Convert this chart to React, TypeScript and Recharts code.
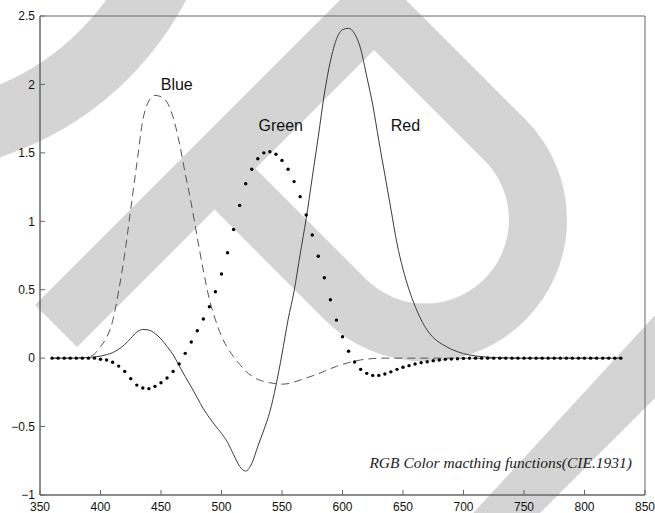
import React from 'react';
import { LineChart, Line, XAxis, YAxis, ReferenceDot, ReferenceArea } from 'recharts';

// wavelengths 360..830 nm every 5 nm
const wavelengths: number[] = Array.from({ length: 95 }, (_, i) => 360 + 5 * i);

// red (solid)
const redValues = [
  0, 0, 0, 0, 0.001, 0.002, 0.005, 0.009, // 360-395
  0.015, 0.025, 0.04, 0.065, 0.1, 0.145, 0.19, 0.21, 0.205, 0.18, // 400-445
  0.14, 0.085, 0.025, -0.055, -0.135, -0.21, -0.29, -0.37, -0.435, -0.495, // 450-495
  -0.55, -0.615, -0.705, -0.79, -0.825, -0.77, -0.645, -0.525, -0.39, -0.2, // 500-545
  0.03, 0.28, 0.49, 0.76, 1.02, 1.32, 1.62, 1.93, 2.17, 2.33, // 550-595
  2.4, 2.41, 2.37, 2.26, 2.06, 1.85, 1.59, 1.34, 1.09, 0.84, // 600-645
  0.65, 0.5, 0.38, 0.28, 0.205, 0.15, 0.115, 0.088, 0.065, 0.047, // 650-695
  0.033, 0.023, 0.016, 0.011, 0.007, 0.005, 0.003, 0.002, 0.001, 0, // 700-745
  0, 0, 0, 0, 0, 0, 0, 0, 0, 0, // 750-795
  0, 0, 0, 0, 0, 0, 0, // 800-830
];

// green (dotted)
const greenValues = [
  0, 0, 0, 0, 0, 0, 0, 0, // 360-395
  -0.008, -0.014, -0.03, -0.058, -0.097, -0.15, -0.197, -0.218, -0.223, -0.206, // 400-445
  -0.18, -0.145, -0.097, -0.042, 0.035, 0.118, 0.2, 0.286, 0.376, 0.485, // 450-495
  0.615, 0.77, 0.94, 1.116, 1.274, 1.38, 1.457, 1.5, 1.508, 1.49, // 500-545
  1.445, 1.38, 1.29, 1.18, 1.046, 0.9, 0.744, 0.587, 0.427, 0.278, // 550-595
  0.156, 0.05, -0.028, -0.082, -0.111, -0.126, -0.126, -0.116, -0.1, -0.082, // 600-645
  -0.067, -0.055, -0.043, -0.033, -0.026, -0.019, -0.014, -0.009, -0.007, -0.004, // 650-695
  -0.002, 0, 0, 0, 0, 0, 0, 0, 0, 0, // 700-745
  0, 0, 0, 0, 0, 0, 0, 0, 0, 0, // 750-795
  0, 0, 0, 0, 0, 0, 0, // 800-830
];

// blue (dashed)
const blueValues = [
  0, 0, 0, 0, 0.001, 0.003, 0.008, 0.03, // 360-395
  0.085, 0.15, 0.27, 0.49, 0.76, 1.09, 1.42, 1.74, 1.88, 1.92, // 400-445
  1.91, 1.87, 1.76, 1.58, 1.35, 1.13, 0.88, 0.64, 0.43, 0.28, // 450-495
  0.16, 0.075, 0.01, -0.045, -0.095, -0.13, -0.155, -0.17, -0.18, -0.187, // 500-545
  -0.19, -0.186, -0.175, -0.16, -0.145, -0.13, -0.115, -0.095, -0.077, -0.06, // 550-595
  -0.046, -0.033, -0.022, -0.013, -0.007, -0.003, -0.001, 0, 0, 0, // 600-645
  0, 0, 0, 0, 0, 0, 0, 0, 0, 0, // 650-695
  0, 0, 0, 0, 0, 0, 0, 0, 0, 0, // 700-745
  0, 0, 0, 0, 0, 0, 0, 0, 0, 0, // 750-795
  0, 0, 0, 0, 0, 0, 0, // 800-830
];

const xTicks = [350, 400, 450, 500, 550, 600, 650, 700, 750, 800, 850];
const yTicks = [-1, -0.5, 0, 0.5, 1, 1.5, 2, 2.5];

const curveLabels = [
  { name: 'Blue', x: 463, y: 2.0 },
  { name: 'Green', x: 549, y: 1.7 },
  { name: 'Red', x: 652, y: 1.7 },
];

const title = 'RGB Color macthing functions(CIE.1931)';

const data = wavelengths.map((w, i) => ({
  nm: w,
  red: redValues[i],
  green: greenValues[i],
  blue: blueValues[i],
}));

const fmt = (v: number) => (v < 0 ? '\u2212' + Math.abs(v) : String(v));

const GreenDot = (props: any) => {
  const { cx, cy, index } = props;
  if (cx == null || cy == null) return <g key={index} />;
  return <circle key={index} cx={cx} cy={cy} r={1.7} fill="#000" />;
};

// grey watermark in the background of the scan
const Watermark = () => (
  <svg width={655} height={513} style={{ position: 'absolute', left: 0, top: 0 }}>
    <g fill="none" stroke="#d4d4d4">
      <circle cx={-100} cy={-150} r={289} strokeWidth={68} />
      <path d="M 373.5 8.5 L 505 140 A 112.8 112.8 0 0 1 345.4 299.5 L 214 168" strokeWidth={58} />
    </g>
    <polygon points="35,305 77,347 414.5,9.5 372.5,-32.5" fill="#d4d4d4" />
    <polygon points="703,263 453,535 518,535 700,353" fill="#d4d4d4" />
  </svg>
);

const axisColor = '#666';
const tickStyle = { fontSize: 12, fill: '#111', fontFamily: 'Liberation Sans, Arial, sans-serif' };

export default function App() {
  return (
    <div style={{ position: 'absolute', left: 0, top: 0, width: 655, height: 513, background: '#fff' }}>
      <Watermark />
      <div style={{ position: 'absolute', left: 0, top: 0 }}>
        <LineChart width={655} height={513} data={data} margin={{ top: 16, right: 10, bottom: 0, left: 0 }}>
          <XAxis
            dataKey="nm"
            type="number"
            domain={[350, 850]}
            ticks={xTicks}
            height={18}
            tickSize={-5}
            tickMargin={12}
            stroke={axisColor}
            tick={tickStyle}
          />
          <XAxis
            xAxisId="top"
            dataKey="nm"
            orientation="top"
            type="number"
            domain={[350, 850]}
            ticks={xTicks}
            height={0}
            tickSize={-5}
            tickFormatter={() => ''}
            stroke={axisColor}
          />
          <YAxis
            type="number"
            domain={[-1, 2.5]}
            ticks={yTicks}
            width={40}
            tickSize={-5}
            tickMargin={10}
            stroke={axisColor}
            tick={tickStyle}
            tickFormatter={fmt}
          />
          <YAxis
            yAxisId="right"
            orientation="right"
            type="number"
            domain={[-1, 2.5]}
            ticks={yTicks}
            width={0}
            tickSize={-5}
            tickFormatter={() => ''}
            stroke={axisColor}
          />
          <ReferenceArea x1={350} x2={850} y1={-1} y2={2.5} fill="none" stroke={axisColor} strokeWidth={1} />
          <Line
            dataKey="red"
            xAxisId="top"
            yAxisId="right"
            stroke="none"
            dot={false}
            activeDot={false}
            isAnimationActive={false}
          />
          <Line dataKey="red" type="monotone" stroke="#3a3a3a" strokeWidth={1} dot={false} isAnimationActive={false} />
          <Line
            dataKey="blue"
            type="monotone"
            stroke="#555"
            strokeWidth={1}
            strokeDasharray="8 5"
            dot={false}
            isAnimationActive={false}
          />
          <Line dataKey="green" stroke="none" dot={<GreenDot />} activeDot={false} isAnimationActive={false} />
          {curveLabels.map((l) => (
            <ReferenceDot
              key={l.name}
              x={l.x}
              y={l.y}
              r={0}
              fill="none"
              stroke="none"
              label={{ value: l.name, position: 'center', fontSize: 16, fill: '#111', fontFamily: 'Liberation Sans, Arial, sans-serif' }}
            />
          ))}
        </LineChart>
      </div>
      <div
        style={{
          position: 'absolute',
          right: 23,
          top: 454,
          fontFamily: 'Liberation Serif, Times New Roman, serif',
          fontStyle: 'italic',
          fontSize: 15.5,
          color: '#222',
          whiteSpace: 'nowrap',
        }}
      >
        {title}
      </div>
    </div>
  );
}
